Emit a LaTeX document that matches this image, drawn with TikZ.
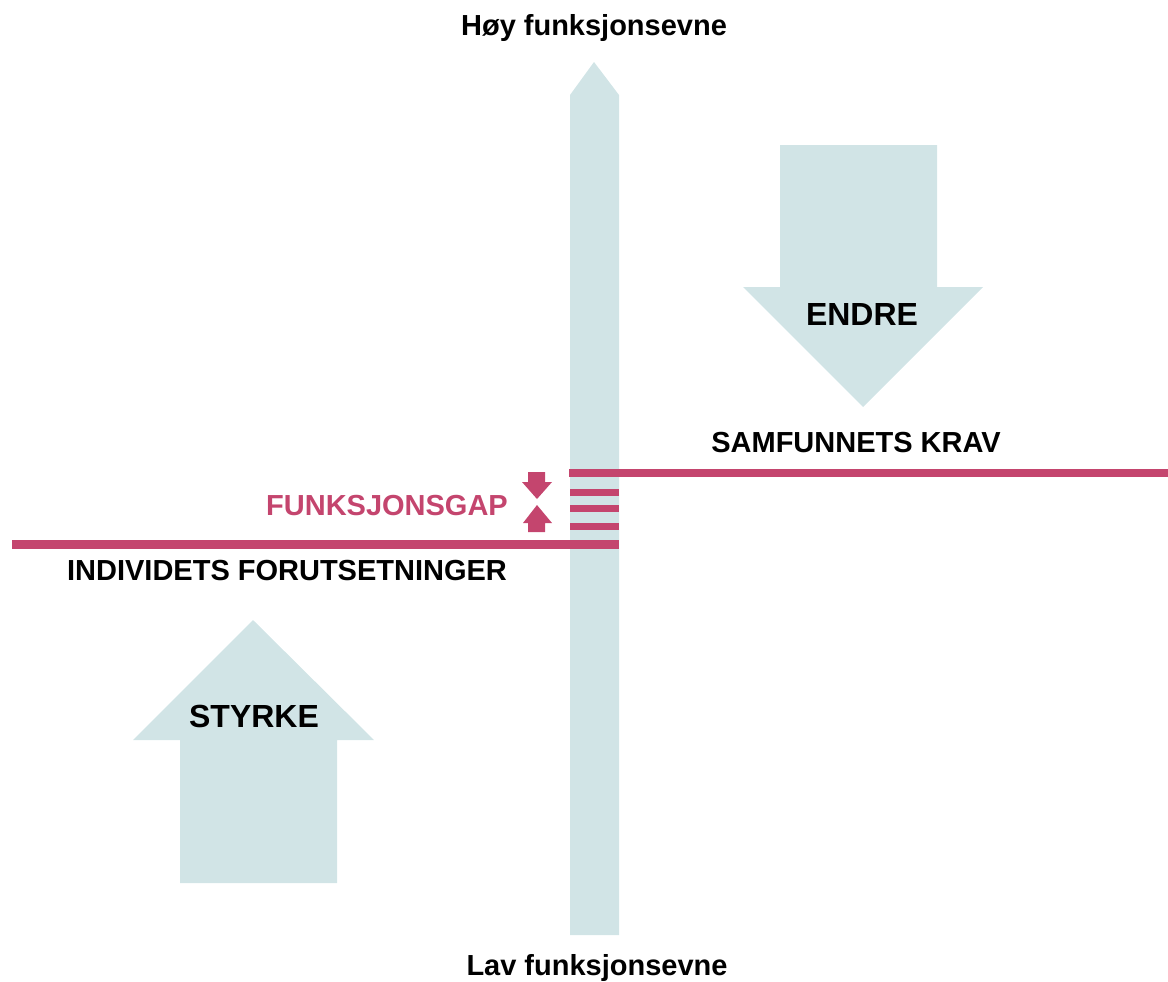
\documentclass[tikz,border=0pt]{standalone}
\usepackage{fontspec}
\setmainfont{Liberation Sans}
\usetikzlibrary{positioning}
\definecolor{paleblue}{RGB}{209,228,230}
\definecolor{gapred}{RGB}{196,69,110}

\begin{document}
\begin{tikzpicture}[% one unit is one pixel of the reference, y runs downwards
					x=0.02cm,y=-0.02cm,
					every node/.style={
						inner sep=0pt,
						font=\fontsize{16.5}{20}\selectfont\bfseries	% axis and line labels
						},
					biglabel/.style={font=\fontsize{18.2}{22}\selectfont\bfseries},
					gaplabel/.style={text=gapred},
					blueshape/.style={fill=paleblue},
					redshape/.style={fill=gapred}
					]
\useasboundingbox (0,0) rectangle (1168,981);
% vertical axis
\fill[blueshape] (570,935) -- (570,95) -- (594,62) -- (619,95) -- (619,935) -- cycle;
\coordinate (top) at (594,62);
\coordinate (bottom) at (594,935);
\node (hoy) at (594,28) {Høy funksjonsevne};
\node (lav) at (597,968) {Lav funksjonsevne};
% big arrows
\fill[blueshape] (780,145) -- (937,145) -- (937,287) -- (983,287) -- (863,407) -- (743,287) -- (780,287) -- cycle;
\node[biglabel] (endre) at (862,314) {ENDRE};
\fill[blueshape] (180,883) -- (180,740) -- (133,740) -- (253,620) -- (374,740) -- (337,740) -- (337,883) -- cycle;
\node[biglabel] (styrke) at (254,716) {STYRKE};
% the two levels
\fill[redshape] (569,469) rectangle (1168,477);
\fill[redshape] (12,540) rectangle (619,549);
\node (krav) at (856,443) {SAMFUNNETS KRAV};
\node (individ) at (287,571) {INDIVIDETS FORUTSETNINGER};
% gap
\foreach \y in {492,508,526}
	\fill[redshape] (570,\y-3.5) rectangle (619,\y+3.5);
\fill[redshape] (528,472) -- (545,472) -- (545,482) -- (552,482) -- (537,499) -- (522,482) -- (528,482) -- cycle;
\fill[redshape] (528,532) -- (528,523) -- (523,523) -- (537,505) -- (552,523) -- (545,523) -- (545,532) -- cycle;
\node[gaplabel] (gap) at (387,506) {FUNKSJONSGAP};
\end{tikzpicture}
\end{document}
